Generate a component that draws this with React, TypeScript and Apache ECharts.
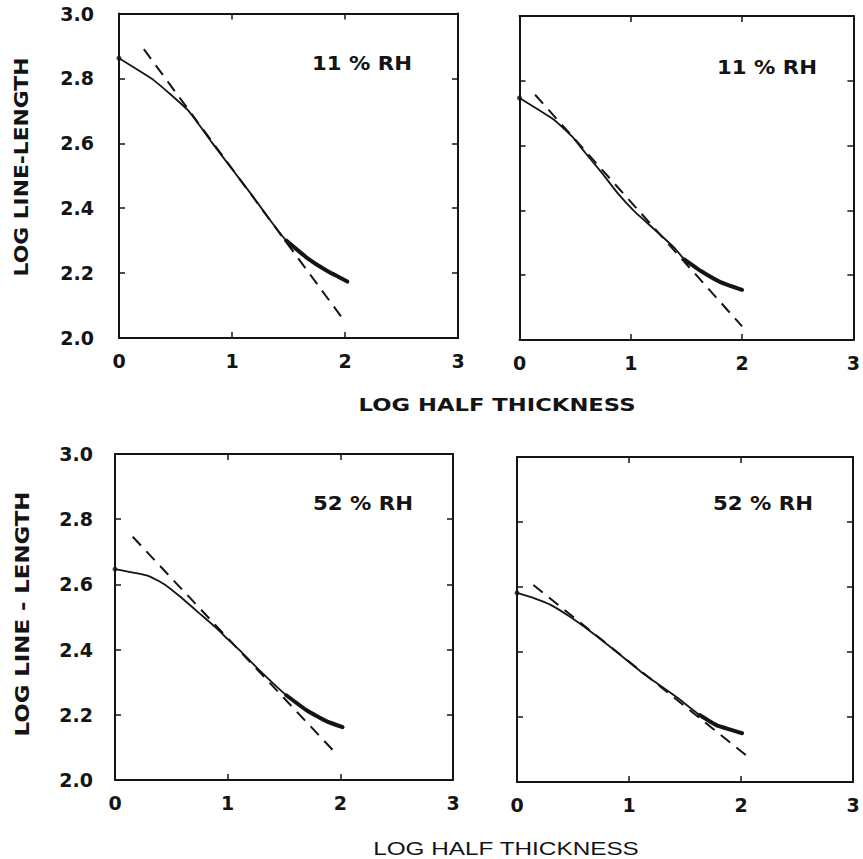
import React, { useEffect, useRef } from "react";
import * as echarts from "echarts";

// ---- data ----
const X_TICK_LABELS = ["0", "1", "2", "3"];
const Y_TICKS = [2.0, 2.2, 2.4, 2.6, 2.8, 3.0];

// Top-left: 11 % RH
const TL_X = [0, 0.31, 0.61, 0.83, 1.01, 1.19, 1.34, 1.48, 1.66, 1.84, 2.02];
const TL_Y = [2.862, 2.794, 2.702, 2.599, 2.516, 2.434, 2.362, 2.3, 2.248, 2.207, 2.174];
const TL_FIT_X = [0.22, 2.0];
const TL_FIT_Y = [2.89, 2.05];

// Top-right: 11 % RH
const TR_X = [0, 0.31, 0.47, 0.59, 0.74, 0.88, 1.03, 1.21, 1.39, 1.48, 1.63, 1.81, 2.0];
const TR_Y = [2.747, 2.68, 2.629, 2.578, 2.516, 2.454, 2.398, 2.342, 2.285, 2.249, 2.213, 2.178, 2.155];
const TR_FIT_X = [0.14, 2.0];
const TR_FIT_Y = [2.757, 2.042];

// Bottom-left: 52 % RH
const BL_X = [0, 0.29, 0.44, 0.58, 0.76, 0.9, 1.0, 1.11, 1.29, 1.52, 1.7, 1.88, 2.02];
const BL_Y = [2.647, 2.627, 2.6, 2.562, 2.508, 2.466, 2.432, 2.397, 2.334, 2.26, 2.214, 2.18, 2.162];
const BL_FIT_X = [0.157, 1.973];
const BL_FIT_Y = [2.746, 2.077];

// Bottom-right: 52 % RH
const BR_X = [0, 0.15, 0.3, 0.47, 0.68, 0.89, 1.13, 1.43, 1.63, 1.78, 2.01];
const BR_Y = [2.582, 2.566, 2.545, 2.509, 2.457, 2.4, 2.333, 2.26, 2.206, 2.175, 2.15];
const BR_FIT_X = [0.146, 2.08];
const BR_FIT_Y = [2.606, 2.073];

const PANEL_LABELS = ["11 % RH", "11 % RH", "52 % RH", "52 % RH"];
const Y_TITLE_TOP = "LOG LINE-LENGTH";
const Y_TITLE_BOTTOM = "LOG LINE - LENGTH";
const X_TITLE = "LOG HALF THICKNESS";

const INK = "#141414";
const BOLD = "DejaVu Sans";

const zip = (xs: number[], ys: number[]) => xs.map((x, i) => [x, ys[i]]);

export default function App() {
  const ref = useRef<HTMLDivElement>(null);
  useEffect(() => {
    if (!ref.current) return;
    const chart = echarts.init(ref.current, null, { renderer: "svg" });

    const grids = [
      { left: 119, top: 13.5, width: 339, height: 324.5 },
      { left: 519.5, top: 16, width: 337.5, height: 324 },
      { left: 115, top: 454, width: 338, height: 326 },
      { left: 517, top: 457, width: 336, height: 325 },
    ];
    const panels = [
      { xs: TL_X, ys: TL_Y, fx: TL_FIT_X, fy: TL_FIT_Y, tail: 1.45, yLabels: true },
      { xs: TR_X, ys: TR_Y, fx: TR_FIT_X, fy: TR_FIT_Y, tail: 1.45, yLabels: false },
      { xs: BL_X, ys: BL_Y, fx: BL_FIT_X, fy: BL_FIT_Y, tail: 1.5, yLabels: true },
      { xs: BR_X, ys: BR_Y, fx: BR_FIT_X, fy: BR_FIT_Y, tail: 1.6, yLabels: false },
    ];

    const axisLine = { show: true, onZero: false, lineStyle: { color: INK, width: 2 } };
    const axisTick = { show: true, inside: true, length: 6, lineStyle: { color: INK, width: 1.5 } };
    const labelFont = { fontFamily: BOLD, fontWeight: "bold" as const, fontSize: 19, color: INK };

    const xAxis: any[] = [];
    const yAxis: any[] = [];
    const series: any[] = [];

    panels.forEach((p, g) => {
      xAxis.push({
        type: "value", gridIndex: g, position: "bottom", min: 0, max: 3, interval: 1,
        axisLine, axisTick,
        axisLabel: { ...labelFont, margin: 13, formatter: (v: number) => X_TICK_LABELS[Math.round(v)] },
        splitLine: { show: false },
      });
      xAxis.push({
        type: "value", gridIndex: g, position: "top", min: 0, max: 3, interval: 1,
        axisLine, axisTick, axisLabel: { show: false }, splitLine: { show: false },
      });
      yAxis.push({
        type: "value", gridIndex: g, position: "left", min: Y_TICKS[0], max: Y_TICKS[Y_TICKS.length - 1], interval: 0.2,
        axisLine, axisTick,
        axisLabel: { ...labelFont, show: p.yLabels, margin: g === 0 ? 25 : 22, formatter: (v: number) => v.toFixed(1) },
        splitLine: { show: false },
      });
      yAxis.push({
        type: "value", gridIndex: g, position: "right", min: Y_TICKS[0], max: Y_TICKS[Y_TICKS.length - 1], interval: 0.2,
        axisLine, axisTick, axisLabel: { show: false }, splitLine: { show: false },
      });
      const pts = zip(p.xs, p.ys);
      const base = { type: "line", xAxisIndex: 2 * g, yAxisIndex: 2 * g, showSymbol: false, silent: true, z: 3 };
      series.push({
        ...base, data: pts, smooth: 0.12,
        lineStyle: { color: INK, width: 1.8 },
      });
      series.push({
        ...base, data: pts.filter((d) => d[0] >= p.tail), smooth: 0.12,
        lineStyle: { color: INK, width: 4, cap: "round" },
      });
      series.push({
        ...base, data: zip(p.fx, p.fy),
        lineStyle: { color: INK, width: 2, type: [12, 8] },
      });
      series.push({
        ...base, type: "scatter", data: [pts[0]], symbolSize: 5,
        itemStyle: { color: INK },
      });
    });

    const txt = (text: string, x: number, y: number, font: string, sx: number, rot = 0) => ({
      type: "text", x, y, scaleX: sx, rotation: rot, silent: true,
      style: { text, font, fill: INK, textAlign: "center", textVerticalAlign: "middle" },
    });

    const graphic = [
      txt(Y_TITLE_TOP, 21, 167, `bold 20px "${BOLD}"`, 1.09, Math.PI / 2),
      txt(Y_TITLE_BOTTOM, 22, 614, `bold 20px "${BOLD}"`, 1.14, Math.PI / 2),
      txt(X_TITLE, 497, 405, `bold 18px "${BOLD}"`, 1.26),
      txt(X_TITLE, 506, 848, `19px "Liberation Sans"`, 1.28),
      txt(PANEL_LABELS[0], 362, 63, `bold 19px "${BOLD}"`, 1.12),
      txt(PANEL_LABELS[1], 767, 67, `bold 19px "${BOLD}"`, 1.12),
      txt(PANEL_LABELS[2], 363, 503, `bold 19px "${BOLD}"`, 1.12),
      txt(PANEL_LABELS[3], 763, 503, `bold 19px "${BOLD}"`, 1.12),
    ];

    chart.setOption({
      animation: false,
      backgroundColor: "#ffffff",
      grid: grids,
      xAxis,
      yAxis,
      series,
      graphic,
    });
    return () => chart.dispose();
  }, []);

  return (
    <div
      ref={ref}
      style={{ position: "absolute", left: 0, top: 0, width: 863, height: 859 }}
    />
  );
}
